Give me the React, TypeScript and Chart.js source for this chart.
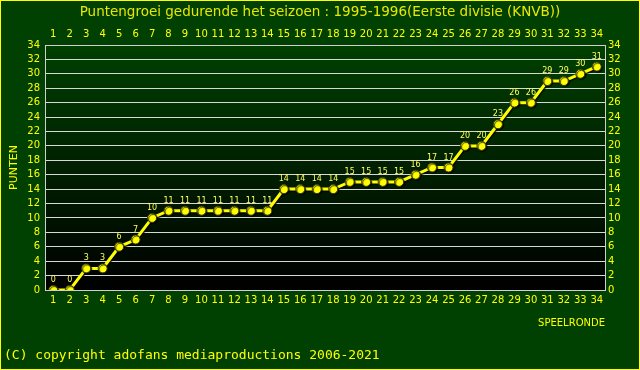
import React, { useEffect, useRef } from 'react';
import { Chart, registerables } from 'chart.js';

Chart.register(...registerables);

const TITLE = 'Puntengroei gedurende het seizoen : 1995-1996(Eerste divisie (KNVB))';
const ROUNDS = ['1','2','3','4','5','6','7','8','9','10','11','12','13','14','15','16','17','18','19','20','21','22','23','24','25','26','27','28','29','30','31','32','33','34'];
const POINTS = [0,0,3,3,6,7,10,11,11,11,11,11,11,11,14,14,14,14,15,15,15,15,16,17,17,20,20,23,26,26,29,29,30,31];
const Y_MIN = 0;
const Y_MAX = 34;
const Y_STEP = 2;
const Y_TITLE = 'PUNTEN';
const X_TITLE = 'SPEELRONDE';
const COPYRIGHT = '(C) copyright adofans mediaproductions 2006-2021';

const YELLOW = '#ffff00';
const FONT = 'DejaVu Sans';

const backgroundPlugin = {
  id: 'bgPlugin',
  beforeDraw(chart: any) {
    const { ctx, width, height, chartArea } = chart;
    ctx.save();
    ctx.fillStyle = '#004000';
    ctx.fillRect(0, 0, width, height);
    ctx.strokeStyle = YELLOW;
    ctx.lineWidth = 1;
    ctx.strokeRect(0.5, 0.5, width - 1, height - 1);
    const g = ctx.createLinearGradient(0, chartArea.top, 0, chartArea.bottom);
    g.addColorStop(0, '#004000');
    g.addColorStop(1, '#000000');
    ctx.fillStyle = g;
    ctx.fillRect(chartArea.left, chartArea.top, chartArea.right - chartArea.left, chartArea.bottom - chartArea.top);
    ctx.restore();
  },
  beforeDatasetsDraw(chart: any) {
    const { ctx, chartArea } = chart;
    ctx.save();
    ctx.strokeStyle = '#d0d0d0';
    ctx.lineWidth = 1;
    ctx.strokeRect(Math.round(chartArea.left) + 0.5, Math.round(chartArea.top) + 0.5,
      Math.round(chartArea.right - chartArea.left), Math.round(chartArea.bottom - chartArea.top));
    ctx.restore();
  },
  beforeDatasetDraw(chart: any) {
    const ctx = chart.ctx;
    ctx.save();
    ctx.shadowColor = 'rgba(0,0,0,0.85)';
    ctx.shadowOffsetX = 1;
    ctx.shadowOffsetY = 1;
    ctx.shadowBlur = 1;
  },
  afterDatasetDraw(chart: any) {
    chart.ctx.restore();
  },
  afterDatasetsDraw(chart: any) {
    const { ctx } = chart;
    const meta = chart.getDatasetMeta(0);
    const data = chart.data.datasets[0].data;
    ctx.save();
    ctx.font = `8px ${FONT}`;
    ctx.fillStyle = '#ffff60';
    ctx.textAlign = 'center';
    ctx.textBaseline = 'middle';
    meta.data.forEach((pt: any, i: number) => {
      ctx.fillText(String(data[i]), pt.x, pt.y - 10);
    });
    ctx.restore();
  },
  afterDraw(chart: any) {
    const { ctx } = chart;
    ctx.save();
    ctx.font = `13px "DejaVu Sans Mono"`;
    ctx.fillStyle = YELLOW;
    ctx.textAlign = 'left';
    ctx.textBaseline = 'middle';
    ctx.fillText(COPYRIGHT, 4, 355.5);
    ctx.restore();
  },
};

export default function App() {
  const ref = useRef<HTMLCanvasElement | null>(null);
  useEffect(() => {
    if (!ref.current) return;
    const tickFont = { family: FONT, size: 10 };
    const chart = new Chart(ref.current, {
      type: 'line',
      data: {
        labels: ROUNDS,
        datasets: [
          {
            data: POINTS,
            borderColor: YELLOW,
            borderWidth: 3,
            backgroundColor: YELLOW,
            pointBackgroundColor: YELLOW,
            pointBorderColor: '#3a3a00',
            pointBorderWidth: 1,
            pointRadius: 4.5,
            tension: 0,
            fill: false,
          },
        ],
      },
      options: {
        responsive: false,
        animation: false,
        layout: { padding: 0 },
        plugins: {
          legend: { display: false },
          tooltip: { enabled: false },
          title: {
            display: true,
            text: TITLE,
            color: '#e8e800',
            font: { family: FONT, size: 13.5, lineHeight: 1.2, weight: 'normal' },
            padding: { top: 4, bottom: 0 },
          },
        },
        scales: {
          x: {
            type: 'category',
            position: 'bottom',
            offset: true,
            grid: { display: false, drawTicks: false },
            border: { display: false },
            ticks: { color: YELLOW, font: tickFont, padding: 4, autoSkip: false, maxRotation: 0 },
            title: {
              display: true,
              text: X_TITLE,
              align: 'end',
              color: YELLOW,
              font: { family: FONT, size: 10, lineHeight: 1.2 },
              padding: { top: 0, bottom: 41 },
            },
            afterFit(scale: any) { scale.height = 80; },
          },
          x2: {
            type: 'category',
            position: 'top',
            offset: true,
            labels: ROUNDS,
            grid: { display: false, drawTicks: false },
            border: { display: false },
            ticks: { color: YELLOW, font: tickFont, padding: 5, autoSkip: false, maxRotation: 0 },
            afterFit(scale: any) { scale.height = 45 - (13.5 * 1.2 + 4); },
          },
          y: {
            type: 'linear',
            position: 'left',
            min: Y_MIN,
            max: Y_MAX,
            grid: { color: '#d8d8d8', lineWidth: 1, drawTicks: false },
            border: { display: false },
            ticks: { stepSize: Y_STEP, maxTicksLimit: 40, autoSkip: false, color: YELLOW, font: tickFont, padding: 5 },
            title: {
              display: true,
              text: Y_TITLE,
              color: YELLOW,
              font: { family: FONT, size: 11, lineHeight: 1.2 },
              padding: { top: 8, bottom: 0 },
            },
            afterFit(scale: any) { scale.width = 45; },
          },
          y2: {
            type: 'linear',
            position: 'right',
            min: Y_MIN,
            max: Y_MAX,
            grid: { display: false, drawTicks: false },
            border: { display: false },
            ticks: { stepSize: Y_STEP, maxTicksLimit: 40, autoSkip: false, color: YELLOW, font: tickFont, padding: 3 },
            afterFit(scale: any) { scale.width = 35; },
          },
        },
      },
      plugins: [backgroundPlugin],
    } as any);
    return () => chart.destroy();
  }, []);
  return (
    <div style={{ position: 'absolute', left: 0, top: 0, width: 640, height: 370 }}>
      <canvas ref={ref} width={640} height={370} />
    </div>
  );
}
